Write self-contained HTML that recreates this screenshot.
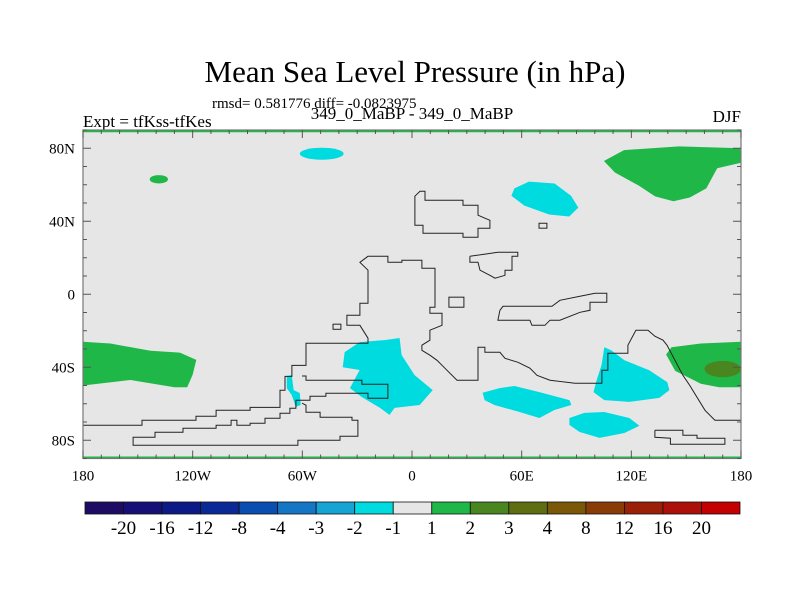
<!DOCTYPE html>
<html><head><meta charset="utf-8">
<style>
body{margin:0;background:#fff;}
svg{display:block;font-family:"Liberation Serif",serif;}
</style></head>
<body>
<svg id="chart" width="800" height="600" viewBox="0 0 800 600">
<text x="415" y="82" font-size="31" text-anchor="middle">Mean Sea Level Pressure (in hPa)</text>
<text x="212" y="108" font-size="15">rmsd= 0.581776 diff= -0.0823975</text>
<text x="83" y="127" font-size="17">Expt = tfKss-tfKes</text>
<text x="412" y="119" font-size="17" text-anchor="middle">349_0_MaBP - 349_0_MaBP</text>
<text x="741" y="122" font-size="17" text-anchor="end">DJF</text>
<g id="plot"></g>
<g id="cbar"></g>
</svg>
<script>
// ----- data -----
const xTickVals = [-180,-120,-60,0,60,120,180];
const xTickLabels = ['180','120W','60W','0','60E','120E','180'];
const yTickVals = [80,40,0,-40,-80];
const yTickLabels = ['80N','40N','0','40S','80S'];
const levelLabels = ['-20','-16','-12','-8','-4','-3','-2','-1','1','2','3','4','8','12','16','20'];
const levelColors = ['#1e0c64','#160f78','#0c1a88','#0a2996','#0a4eb0','#1676c6','#16a4d4','#00dbe0','#e6e6e6','#1fb848','#4a8620','#5e6e10','#7a5808','#8a3c08','#9a2008','#ac1008','#c40000'];

const greenWest = [[-180,-26],[-165,-27],[-143,-31],[-127,-32],[-118,-36],[-120,-44],[-123,-51],[-130,-51],[-154,-47],[-180,-50]];
const greenEast = [[180,-26],[158,-27],[142,-29],[139,-33],[144,-42],[158,-49],[168,-51],[180,-51]];
const greenNE = [[105,73],[116,79],[146,81],[180,80],[180,72],[167,69],[161,58],[152,53],[143,51],[133,53.6],[124,59.6],[111,66.7]];
const cyanNE = [[56,58],[64,61.7],[78,60.7],[87,54],[91,47.5],[86,42.6],[75,43.7],[61.5,48.6],[54.4,54]];
const cyanCentral = [[-36.8,-31.7],[-28.6,-26.2],[-15,-25.1],[-6.8,-24],[-5.7,-33.3],[1.4,-44.3],[11.3,-52.5],[4.2,-60.7],[-9.5,-62.3],[-12.3,-66.1],[-17.5,-62.3],[-27.5,-56.3],[-34,-51.4],[-28.6,-41.5],[-37.9,-40]];
const cyanSmall = [[-68.5,-44.8],[-65.8,-44.3],[-64.7,-52.5],[-61.4,-54.1],[-60.9,-60.7],[-63.6,-61.7],[-65.8,-55.2],[-68.5,-51.4]];
const cyanSouth1 = [[38.6,-54],[47.9,-51.4],[56.1,-50.3],[69.7,-53.6],[86.1,-58],[87.2,-60.7],[77.9,-63.4],[69.7,-67.8],[58.8,-64.5],[45.1,-60.7],[39.7,-58]];
const cyanSouth2 = [[86.1,-67.8],[94.3,-65],[105.2,-64.5],[118.9,-67.8],[124.4,-72.1],[116.2,-76],[102.6,-78.7],[91.6,-75.4],[86.1,-71.6]];
const cyanEast = [[105.2,-29],[109,-30.7],[116.2,-36.2],[129.8,-41.6],[139.7,-48.2],[140.8,-52.5],[135.3,-56.8],[118.9,-59],[105.2,-58],[99.3,-53.6],[101,-47.1],[103.7,-38.9]];
const greenSmall = [-138.5,63,5,2.3];
const cyanTop = [-49.4,77,12,3.3];
const darkGreenEast = [170,-41,10,4.5];

const coastNorth = [[1.6,50.4],[1.6,53.7],[4.4,56.4],[7.1,56.4],[7.1,51.5],[27.9,51.5],[27.9,48.8],[36.1,48.8],[36.1,43.3],[42.6,40.5],[42.6,36.2],[36.1,36.2],[36.1,31.2],[27.9,31.2],[27.9,33.4],[6,33.4],[6,37.8],[1.6,37.8],[1.6,50.4]];
const coastArabia = [[31.7,20.8],[47,23],[57.9,23],[57.9,20.8],[54.7,20.8],[54.7,13.2],[50.9,13.2],[50.9,10.4],[45.4,8.8],[42.6,10.4],[37.2,13.2],[36.1,17.5],[31.7,17.5],[31.7,20.8]];
const coastIndia = [[48.1,-8.8],[49.8,-6.6],[76.6,-6.6],[80.9,-3.3],[91.9,-1.1],[100.1,0.5],[106.6,0.5],[106.6,-4.4],[97.4,-4.4],[97.4,-8.8],[91.9,-9.9],[80.9,-14.2],[75.5,-14.2],[72.7,-17],[65.6,-17],[64.5,-14.2],[47,-14.2],[48.1,-8.8]];
const coastMain = [[180,-69],[165.7,-69],[160.3,-63.6],[152,-50],[148.2,-44.4],[139.5,-27.9],[137.3,-25.2],[132.9,-23],[129.1,-19.7],[122.5,-19.7],[118.1,-27.9],[118.1,-32.3],[107.2,-32.3],[107.2,-41.6],[103.9,-41.6],[103.9,-48.8],[89.1,-48.8],[75.5,-47.1],[68.4,-44.4],[64.5,-40.5],[58,-37.3],[50.9,-35.1],[48.1,-31.8],[39.9,-31.8],[39.9,-29],[36.1,-29],[36.1,-47.1],[24.6,-47.1],[18,-40.5],[13.7,-36.2],[9.8,-33.4],[5.4,-30.7],[5.4,-27.9],[9.8,-25.2],[9.8,-19.7],[16.4,-17],[16.4,-10.4],[9.8,-10.4],[9.8,-7.1],[12.6,-7.1],[12.6,14.2],[5.4,14.2],[5.4,18.6],[-5.5,18.6],[-5.5,17.5],[-13.2,17.5],[-13.2,20.8],[-24.1,20.8],[-28.5,17.5],[-24.1,13.2],[-24.1,-4.9],[-28.5,-4.9],[-28.5,-11.5],[-35.6,-11.5],[-35.6,-17],[-28.5,-17],[-24.1,-24.1],[-24.1,-26.8],[-58,-26.8],[-58,-39],[-65.7,-39],[-65.7,-45],[-69.5,-45],[-69.5,-52.6],[-72.2,-52.6],[-72.2,-62],[-88.6,-62],[-88.6,-63.6],[-107.2,-63.6],[-107.2,-66.8],[-118.2,-66.8],[-118.2,-69],[-147.7,-69],[-147.7,-71.8],[-180,-71.8]];
const coastRect = [[-60.2,-44.8],[-58,-44.8],[-58,-47.1],[-27.4,-47.1],[-27.4,-49.3],[-13.2,-49.3],[-13.2,-57],[-24.1,-57],[-24.1,-54.2],[-47.1,-54.2],[-47.1,-55.9],[-55.8,-55.9],[-55.8,-58.1],[-63.5,-58.1],[-63.5,-62.5],[-66.8,-62.5],[-66.8,-65.2],[-72.2,-65.2],[-72.2,-67.9],[-80.4,-67.9],[-80.4,-70.7],[-88.6,-70.7],[-88.6,-71.8],[-95.8,-71.8],[-95.8,-69],[-99,-69],[-99,-71.8],[-107.2,-71.8],[-107.2,-73.4],[-125.3,-73.4],[-125.3,-75.6],[-140.6,-75.6],[-140.6,-78.4],[-152.6,-78.4],[-152.6,-82.7],[-62.4,-82.7],[-62.4,-80],[-39.4,-80],[-39.4,-77.8],[-29.6,-77.8],[-29.6,-69],[-32.8,-69],[-32.8,-67.4],[-50.3,-67.4],[-50.3,-64.7],[-58,-64.7],[-58,-60.8],[-60.2,-59.7]];
const coastSE = [[132.9,-74.5],[148.2,-74.5],[148.2,-77.3],[155.9,-77.3],[155.9,-78.9],[171.2,-78.9],[171.2,-82.2],[141.4,-82.2],[141.4,-78.9],[132.9,-78.4],[132.9,-74.5]];
const boxes = [[69.5,36.2,73.8,38.9],[-43.2,-19.2,-38.9,-16.4],[20.2,-7.1,28.4,-1.6]];

const X0=83, X1=741, Y0=130, Y1=458.5;
const xs = lon => X0 + (lon+180)/360*(X1-X0);
const ys = lat => Y0 + (90-lat)/180*(Y1-Y0);
const NS='http://www.w3.org/2000/svg';
const plot=document.getElementById('plot');
function mk(tag,attrs,parent){const e=document.createElementNS(NS,tag);for(const k in attrs)e.setAttribute(k,attrs[k]);(parent||plot).appendChild(e);return e;}
const pts = arr => arr.map(p=>xs(p[0]).toFixed(1)+','+ys(p[1]).toFixed(1)).join(' ');

let bg=mk('rect',{x:X0,y:Y0,width:X1-X0,height:Y1-Y0,fill:levelColors[8]});



function poly(arr,color,name){const e=mk('polygon',{points:pts(arr),fill:color});

}
function ell(a,color,name){const e=mk('ellipse',{cx:xs(a[0]),cy:ys(a[1]),rx:a[2]*(X1-X0)/360,ry:a[3]*(Y1-Y0)/180,fill:color});

}
poly(greenWest,levelColors[9],'contour-green-west');
poly(greenEast,levelColors[9],'contour-green-east');
poly(greenNE,levelColors[9],'contour-green-northeast');
ell(darkGreenEast,levelColors[10],'contour-darkgreen-east');
ell(greenSmall,levelColors[9],'contour-green-small');
ell(cyanTop,levelColors[7],'contour-cyan-arctic');
poly(cyanNE,levelColors[7],'contour-cyan-northeast');
poly(cyanCentral,levelColors[7],'contour-cyan-central');
poly(cyanSmall,levelColors[7],'contour-cyan-small');
poly(cyanSouth1,levelColors[7],'contour-cyan-south1');
poly(cyanSouth2,levelColors[7],'contour-cyan-south2');
poly(cyanEast,levelColors[7],'contour-cyan-east');

function line(arr,name){const e=mk('polyline',{points:pts(arr),fill:'none',stroke:'#222','stroke-width':1});

}
line(coastNorth,'coastline-north');
line(coastArabia,'coastline-arabia');
line(coastIndia,'coastline-india');
line(coastMain,'coastline-main');
line(coastRect,'coastline-south');
line(coastSE,'coastline-southeast');
boxes.forEach(b=>{const e=mk('rect',{x:xs(b[0]),y:ys(b[3]),width:xs(b[2])-xs(b[0]),height:ys(b[1])-ys(b[3]),fill:'none',stroke:'#222','stroke-width':1});

});

let gt=mk('line',{x1:X0,y1:Y0+1,x2:X1,y2:Y0+1,stroke:levelColors[9],'stroke-width':2.5});


let gb=mk('line',{x1:X0,y1:Y1-1,x2:X1,y2:Y1-1,stroke:levelColors[9],'stroke-width':2});



let fr=mk('rect',{x:X0,y:Y0,width:X1-X0,height:Y1-Y0,fill:'none',stroke:'#777','stroke-width':1.2});



for(let lon=-180;lon<=180;lon+=10){const maj=xTickVals.includes(lon);const L=maj?8:4;
 const t1=mk('line',{x1:xs(lon),y1:Y1,x2:xs(lon),y2:Y1-L,stroke:'#555'});
 
 
 const t2=mk('line',{x1:xs(lon),y1:Y0,x2:xs(lon),y2:Y0+L,stroke:'#555'});
 
 }
for(let lat=-90;lat<=90;lat+=10){const maj=yTickVals.includes(lat);const L=maj?8:4;
 const t1=mk('line',{x1:X0,y1:ys(lat),x2:X0+L,y2:ys(lat),stroke:'#555'});
 
 
 const t2=mk('line',{x1:X1,y1:ys(lat),x2:X1-L,y2:ys(lat),stroke:'#555'});
 
 }
xTickVals.forEach((v,i)=>{const t=mk('text',{x:xs(v),y:Y1+22,'font-size':15,'text-anchor':'middle'});t.textContent=xTickLabels[i];
 
 });
yTickVals.forEach((v,i)=>{const t=mk('text',{x:X0-8,y:ys(v)+5,'font-size':15,'text-anchor':'end'});t.textContent=yTickLabels[i];
 
 });

const cb=document.getElementById('cbar');
const CX0=85, CX1=740, CY=502, CH=12;
const bw=(CX1-CX0)/levelColors.length;
levelColors.forEach((c,i)=>{const r=mk('rect',{x:CX0+i*bw,y:CY,width:bw,height:CH,fill:c,stroke:'#111','stroke-width':0.8},cb);
 
 });
levelLabels.forEach((l,i)=>{const t=mk('text',{x:CX0+(i+1)*bw,y:534,'font-size':19,'text-anchor':'middle'},cb);t.textContent=l;
 
 });
</script>
</body></html>
